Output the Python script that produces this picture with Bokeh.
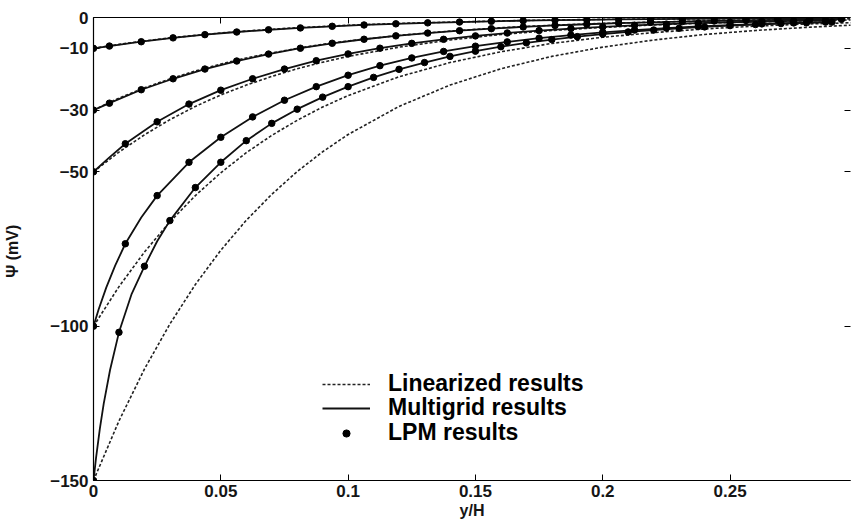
from bokeh.plotting import figure
from bokeh.models import (LinearAxis, FixedTicker, Range1d, Legend, LegendItem,
                          CustomJSTickFormatter)
from bokeh.embed import file_html
from bokeh.resources import INLINE

# ---------------- data ----------------
x_ticks = [0, 0.05, 0.1, 0.15, 0.2, 0.25]
y_ticks = [-150, -100, -50, -30, -10, 0]
legend_labels = ["Linearized results", "Multigrid results", "LPM results"]

# Linearized results (dashed)
lin_x = [0, 0.01, 0.02, 0.03, 0.04, 0.05, 0.06, 0.07, 0.08, 0.09, 0.10, 0.12,
         0.14, 0.16, 0.18, 0.20, 0.22, 0.24, 0.26, 0.28, 0.2975]
lin_10 = [-10, -8.7, -7.6, -6.6, -5.8, -5.0, -4.4, -3.8, -3.3, -2.9, -2.5, -1.9,
          -1.5, -1.1, -0.8, -0.6, -0.5, -0.4, -0.3, -0.2, -0.2]
lin_30 = [-30, -26.1, -22.8, -19.9, -17.3, -15.1, -13.1, -11.5, -10.0, -8.7, -7.6, -5.8,
          -4.4, -3.3, -2.5, -1.9, -1.5, -1.1, -0.8, -0.6, -0.5]
lin_50 = [-50, -43.6, -38.0, -33.1, -28.8, -25.1, -21.9, -19.1, -16.6, -14.5, -12.6, -9.6,
          -7.3, -5.5, -4.2, -3.2, -2.4, -1.8, -1.4, -1.1, -0.8]
lin_100 = [-100, -87.2, -76.0, -66.2, -57.7, -50.3, -43.8, -38.2, -33.3, -29.0, -25.3, -19.2,
           -14.6, -11.1, -8.4, -6.4, -4.9, -3.7, -2.8, -2.1, -1.7]
lin_150 = [-150, -130.7, -113.9, -99.3, -86.5, -75.4, -65.7, -57.3, -49.9, -43.5, -37.9, -28.8,
           -21.9, -16.6, -12.6, -9.6, -7.3, -5.5, -4.2, -3.2, -2.5]

# Multigrid results (solid)
mg_x_a = [0, 0.00625, 0.01875, 0.03125, 0.04375, 0.05625, 0.06875, 0.08125, 0.09375,
          0.10625, 0.11875, 0.13125, 0.14375, 0.15625, 0.16875, 0.18125, 0.19375,
          0.20625, 0.21875, 0.23125, 0.24375, 0.25625, 0.26875, 0.28125, 0.29375]
mg_10 = [-10, -9.25, -7.85, -6.60, -5.55, -4.70, -3.98, -3.38, -2.85, -2.42, -2.05, -1.74,
         -1.47, -1.24, -1.04, -0.87, -0.74, -0.62, -0.52, -0.44, -0.37, -0.31, -0.26, -0.22, -0.19]
mg_30 = [-30, -27.76, -23.4, -19.85, -16.7, -14.1, -11.85, -9.95, -8.35, -7.05, -5.95, -5.05,
         -4.28, -3.62, -3.06, -2.58, -2.18, -1.84, -1.56, -1.32, -1.12, -0.95, -0.80, -0.68, -0.58]
mg_x_50 = [0, 0.00625, 0.0125, 0.025, 0.0375, 0.05, 0.0625, 0.075, 0.0875, 0.1, 0.1125,
           0.125, 0.1375, 0.15, 0.1625, 0.175, 0.1875, 0.2, 0.2125, 0.225, 0.2375, 0.25,
           0.2625, 0.275, 0.2875]
mg_50 = [-50, -45.3, -40.9, -33.8, -28.05, -23.55, -19.85, -16.7, -14.0, -11.8, -9.95, -8.38,
         -7.07, -5.96, -5.03, -4.24, -3.58, -3.02, -2.55, -2.15, -1.82, -1.54, -1.30, -1.10, -0.93]
mg_x_100 = [0, 0.002, 0.005, 0.0085, 0.0125, 0.01875, 0.025, 0.0375, 0.05, 0.0625, 0.075,
            0.0875, 0.1, 0.1125, 0.125, 0.1375, 0.15, 0.1625, 0.175, 0.1875, 0.2, 0.2125,
            0.225, 0.2375, 0.25, 0.2625, 0.275, 0.2875]
mg_100 = [-100, -94.6, -87.5, -80.4, -73.3, -64.8, -57.7, -46.9, -38.8, -32.2, -26.8, -22.4,
          -18.7, -15.6, -13.1, -11.0, -9.3, -7.9, -6.7, -5.7, -4.8, -4.06, -3.43, -2.9,
          -2.45, -2.07, -1.75, -1.48]
mg_x_150 = [0, 0.001, 0.0025, 0.004, 0.0065, 0.01, 0.015, 0.02, 0.025, 0.03, 0.04, 0.05,
            0.06, 0.07, 0.08, 0.09, 0.10, 0.11, 0.12, 0.13, 0.14, 0.15, 0.16, 0.17, 0.18,
            0.19, 0.20, 0.21, 0.22, 0.23, 0.24, 0.25, 0.26, 0.27, 0.28, 0.29]
mg_150 = [-150, -142.7, -133.2, -125.2, -114.2, -102, -89.5, -80.6, -72.5, -65.8, -55.1,
          -46.9, -39.9, -34.3, -29.7, -25.8, -22.4, -19.4, -16.8, -14.6, -12.6, -10.9, -9.45,
          -8.2, -7.15, -6.2, -5.4, -4.68, -4.05, -3.5, -3.04, -2.63, -2.28, -1.97, -1.71, -1.48]

# LPM results (dots)
lpm_x_a = [0, 0.00625, 0.01875, 0.03125, 0.04375, 0.05625, 0.06875, 0.08125, 0.09375,
           0.10625, 0.11875, 0.13125, 0.14375, 0.15625, 0.16875, 0.18125, 0.19375,
           0.20625, 0.21875, 0.23125, 0.24375, 0.25625, 0.26875, 0.28125, 0.29375]
lpm_10 = [-10, -9.25, -7.85, -6.60, -5.55, -4.70, -3.98, -3.38, -2.85, -2.42, -2.05, -1.74,
          -1.47, -1.24, -1.04, -0.87, -0.74, -0.62, -0.52, -0.44, -0.37, -0.31, -0.26, -0.22, -0.19]
lpm_30 = [-30, -27.76, -23.4, -19.85, -16.7, -14.1, -11.85, -9.95, -8.35, -7.05, -5.95, -5.05,
          -4.28, -3.62, -3.06, -2.58, -2.18, -1.84, -1.56, -1.32, -1.12, -0.95, -0.80, -0.68, -0.58]
lpm_x_b = [0, 0.0125, 0.025, 0.0375, 0.05, 0.0625, 0.075, 0.0875, 0.1, 0.1125, 0.125,
           0.1375, 0.15, 0.1625, 0.175, 0.1875, 0.2, 0.2125, 0.225, 0.2375, 0.25, 0.2625,
           0.275, 0.2875]
lpm_50 = [-50, -40.9, -33.8, -28.05, -23.55, -19.85, -16.7, -14.0, -11.8, -9.95, -8.38,
          -7.07, -5.96, -5.03, -4.24, -3.58, -3.02, -2.55, -2.15, -1.82, -1.54, -1.30, -1.10, -0.93]
lpm_100 = [-100, -73.3, -57.7, -46.9, -38.8, -32.2, -26.8, -22.4, -18.7, -15.6, -13.1, -11.0,
           -9.3, -7.9, -6.7, -5.7, -4.8, -4.06, -3.43, -2.9, -2.45, -2.07, -1.75, -1.48]
lpm_x_c = [0, 0.01, 0.02, 0.03, 0.04, 0.05, 0.06, 0.07, 0.08, 0.09, 0.10, 0.11, 0.12, 0.13,
           0.14, 0.15, 0.16, 0.17, 0.18, 0.19, 0.20, 0.21, 0.22, 0.23, 0.24, 0.25, 0.26,
           0.27, 0.28, 0.29]
lpm_150 = [-150, -102, -80.6, -65.8, -55.1, -46.9, -39.9, -34.3, -29.7, -25.8, -22.4, -19.4,
           -16.8, -14.6, -12.6, -10.9, -9.45, -8.2, -7.15, -6.2, -5.4, -4.68, -4.05, -3.5,
           -3.04, -2.63, -2.28, -1.97, -1.71, -1.48]

# ---------------- figure ----------------
FONT = "Liberation Sans"
p = figure(width=851, height=522, x_range=Range1d(0, 0.2973), y_range=Range1d(-150, 0),
           output_backend="svg", toolbar_location=None,
           min_border_left=93, min_border_right=1, min_border_top=17, min_border_bottom=42)
p.grid.visible = False
p.outline_line_color = None
p.background_fill_color = "white"
p.border_fill_color = "white"

DASH_C = "#222222"
SOLID_C = "#111111"
lin_r = None
for ys in [lin_10, lin_30, lin_50, lin_100, lin_150]:
    r = p.line(lin_x, ys, line_color=DASH_C, line_width=1.6, line_dash="3 2")
    lin_r = lin_r or r
mg_r = None
for xs, ys in [(mg_x_a, mg_10), (mg_x_a, mg_30), (mg_x_50, mg_50),
               (mg_x_100, mg_100), (mg_x_150, mg_150)]:
    r = p.line(xs, ys, line_color=SOLID_C, line_width=1.8)
    mg_r = mg_r or r
lpm_r = None
for xs, ys in [(lpm_x_a, lpm_10), (lpm_x_a, lpm_30), (lpm_x_b, lpm_50),
               (lpm_x_b, lpm_100), (lpm_x_c, lpm_150)]:
    r = p.scatter(xs, ys, marker="circle", size=6.5, fill_color="black", line_color="black")
    lpm_r = lpm_r or r

fmt = CustomJSTickFormatter(code="return String(parseFloat(tick.toFixed(2)));")
blank = CustomJSTickFormatter(code="return '';")

def style_axis(ax, labels=True):
    ax.axis_line_color = "black"
    ax.axis_line_width = 1.2
    ax.major_tick_line_color = "black"
    ax.major_tick_in = 6
    ax.major_tick_out = 0
    ax.minor_tick_line_color = None
    if labels:
        ax.major_label_text_font = FONT
        ax.major_label_text_font_style = "bold"
        ax.major_label_text_font_size = "17px"
        ax.major_label_text_color = "#151515"
        ax.axis_label_text_font = FONT
        ax.axis_label_text_font_style = "bold"
        ax.axis_label_text_font_size = "16px"
        ax.axis_label_text_color = "#151515"
    else:
        ax.formatter = blank
        ax.major_label_standoff = 0

xa = p.xaxis[0]
style_axis(xa)
xa.ticker = FixedTicker(ticks=x_ticks)
xa.formatter = fmt
xa.major_label_standoff = 4
xa.axis_label = "y/H"
xa.axis_label_standoff = 2

ya = p.yaxis[0]
style_axis(ya)
ya.ticker = FixedTicker(ticks=y_ticks)
ya.major_label_standoff = 5
ya.axis_label = "\u03a8  (mV)"
ya.axis_label_standoff = 26

top = LinearAxis(ticker=FixedTicker(ticks=x_ticks))
style_axis(top, labels=False)
p.add_layout(top, "above")
right = LinearAxis(ticker=FixedTicker(ticks=y_ticks))
style_axis(right, labels=False)
right.axis_line_color = None
p.add_layout(right, "right")

# one legend per row so the row pitch can match the reference
for label, rend, y_off in zip(legend_labels, [lin_r, mg_r, lpm_r], [83, 59, 34]):
    lg = Legend(items=[LegendItem(label=label, renderers=[rend])],
                location=(229, y_off), border_line_color=None, background_fill_alpha=0,
                label_text_font=FONT, label_text_font_style="bold",
                label_text_font_size="23px", label_text_color="black",
                glyph_width=48, glyph_height=18, label_height=18, label_standoff=18,
                spacing=0, padding=0, margin=0)
    p.add_layout(lg)

open("out.html", "w").write(file_html(p, INLINE))
